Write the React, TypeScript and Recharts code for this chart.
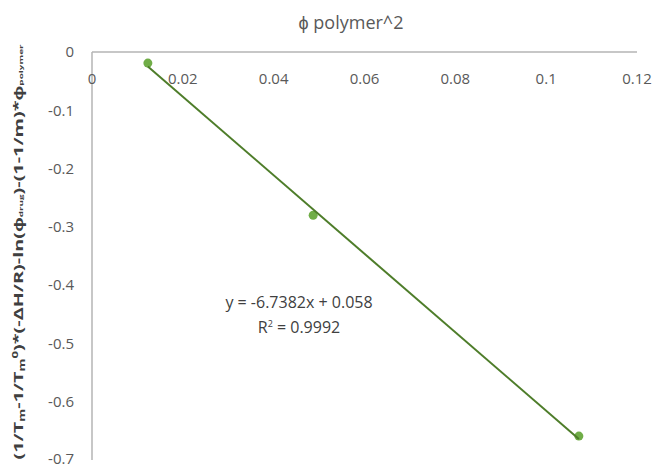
import { ScatterChart, Scatter, XAxis, YAxis, Label } from "recharts";

const X_TICKS = [0, 0.02, 0.04, 0.06, 0.08, 0.1, 0.12];
const Y_TICKS = [0, -0.1, -0.2, -0.3, -0.4, -0.5, -0.6, -0.7];

// measured points (phi polymer^2 vs. left-hand side)
const PHI_SQ = [0.0123, 0.0487, 0.1072];
const LHS = [-0.019, -0.28, -0.659];

// trendline end points
const TREND_X = [0.0123, 0.1072];
const TREND_Y = [-0.025, -0.664];

const TITLE = "ϕ polymer^2";
const EQUATION = "y = -6.7382x + 0.058";
const R2_VALUE = "0.9992";

const points = PHI_SQ.map((x, i) => ({ x, y: LHS[i] }));
const trend = TREND_X.map((x, i) => ({ x, y: TREND_Y[i] }));

const FONT = "'Open Sans', sans-serif";
const TEXT = "#595959";
const AXIS = "#b4b4b4";

function XTick(props: any) {
  const { x, y, payload } = props;
  return (
    <text x={x} y={y + 32} textAnchor="middle" fontSize={15} fontFamily={FONT} fill={TEXT}>
      {payload.value}
    </text>
  );
}

function YTitle(props: any) {
  const vb = props.viewBox;
  const cx = vb.x - 14;
  const cy = vb.y + vb.height / 2 - 4;
  return (
    <text
      x={cx}
      y={cy}
      transform={`rotate(-90 ${cx} ${cy})`}
      textAnchor="middle"
      dominantBaseline="central"
      fontSize={12}
      fontWeight="bold"
      fontFamily={FONT}
      fill="#404040"
      textLength={415}
      lengthAdjust="spacingAndGlyphs"
    >
      <tspan>(1/T</tspan>
      <tspan fontSize={8} dy={3}>m</tspan>
      <tspan dy={-3}>-1/T</tspan>
      <tspan fontSize={8} dy={3}>m</tspan>
      <tspan fontSize={8} dy={-7}>0</tspan>
      <tspan dy={4}>)*(-ΔH/R)-ln(ϕ</tspan>
      <tspan fontSize={6} dy={3}>drug</tspan>
      <tspan dy={-3}>)-(1-1/m)*ϕ</tspan>
      <tspan fontSize={6} dy={3}>polymer</tspan>
    </text>
  );
}

export default function App() {
  return (
    <div
      style={{
        position: "absolute",
        left: 0,
        top: 0,
        width: 656,
        height: 467,
        background: "#fff",
        fontFamily: FONT,
      }}
    >
      <div
        style={{
          position: "absolute",
          left: 0,
          width: 702,
          top: 10,
          textAlign: "center",
          fontSize: 18,
          color: TEXT,
        }}
      >
        {TITLE}
      </div>
      <ScatterChart
        width={656}
        height={467}
        margin={{ top: 22, right: 19, bottom: 7, left: 32 }}
      >
        <XAxis
          type="number"
          dataKey="x"
          orientation="top"
          height={30}
          domain={[0, 0.12]}
          ticks={X_TICKS}
          allowDataOverflow
          axisLine={{ stroke: AXIS, strokeWidth: 1.5 }}
          tickLine={false}
          tickSize={0}
          tickMargin={0}
          tick={<XTick />}
        />
        <YAxis
          type="number"
          dataKey="y"
          width={60}
          domain={[-0.7, 0]}
          ticks={Y_TICKS}
          allowDataOverflow
          axisLine={{ stroke: AXIS, strokeWidth: 1.5 }}
          tickLine={false}
          tickSize={0}
          tickMargin={18}
          tick={{ fontSize: 15, fill: TEXT, fontFamily: FONT }}
        >
          <Label content={<YTitle />} />
        </YAxis>
        <Scatter
          data={points}
          fill="#70ad47"
          shape={(p: any) => <circle cx={p.cx} cy={p.cy} r={4.5} fill="#70ad47" />}
          isAnimationActive={false}
        />
        <Scatter
          data={trend}
          line={{ stroke: "#4e7d2a", strokeWidth: 2 }}
          shape={() => <g />}
          isAnimationActive={false}
        />
      </ScatterChart>
      <div
        style={{
          position: "absolute",
          left: 199,
          width: 200,
          top: 292,
          textAlign: "center",
          fontSize: 16,
          lineHeight: "21px",
          color: "#404040",
        }}
      >
        <div>{EQUATION}</div>
        <div>
          R<sup style={{ fontSize: 9 }}>2</sup> = {R2_VALUE}
        </div>
      </div>
    </div>
  );
}
